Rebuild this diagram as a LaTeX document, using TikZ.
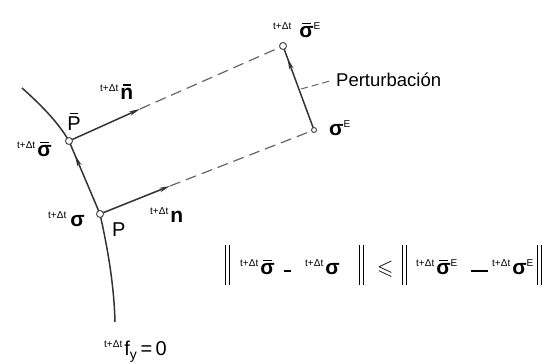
\documentclass[tikz,border=0pt]{standalone}
\usepackage{amssymb}
\usepackage{fontspec}
\setmainfont{Liberation Sans}
\usetikzlibrary{arrows.meta,decorations.markings}
\newcommand\pre[1]{\raisebox{0.8ex}{\fontsize{10}{10}\selectfont #1}\hspace{2pt}}
\newcommand\supE{\raisebox{0.75ex}{\fontsize{10}{10}\selectfont E}}
\newcommand\sig{{\bfseries σ}}
\newcommand\barred[1]{\setbox0\hbox{#1}\vbox{\offinterlineskip\hbox to\wd0{\hss\rule{0.6\wd0}{1.3pt}\hss}\vskip3pt\box0}}
\newcommand\sigb{\barred{\bfseries σ}}
\newcommand\dbars{\rule[-10pt]{1.1pt}{40pt}\hspace{3pt}\rule[-10pt]{1.1pt}{40pt}}
\begin{document}
\begin{tikzpicture}[x=1pt,y=-1pt,
  curve/.style={line width=1.5pt,draw=black!80},
  solid line/.style={line width=1.5pt,draw=black!80},
  dash line/.style={line width=1.2pt,draw=black!60,dash pattern=on 11pt off 6pt},
  tip/.style={-{Stealth[length=11pt,width=4.5pt]}},
  midtip/.style={postaction={decorate},decoration={markings,
     mark=at position #1 with {\arrow{Stealth[length=11pt,width=4.5pt]}}}},
  pt/.style={circle,draw=black!70,line width=1pt,fill=white,minimum size=7pt,inner sep=0pt},
  sym/.style={font=\fontsize{21}{23}\selectfont,inner sep=0pt},
  big/.style={font=\fontsize{20}{22}\selectfont,inner sep=0pt},
  txt/.style={font=\fontsize{18.5}{20}\selectfont,inner sep=0pt}]
\useasboundingbox (0,0) rectangle (542,363);
% key points
\coordinate (P) at (100,214);
\coordinate (Pb) at (69,141);
\coordinate (T) at (283,46);
\coordinate (E) at (314,130);
\coordinate (nA) at (170,186);
\coordinate (nbA) at (140,109);
\coordinate (ctop) at (22,88);
\coordinate (cbot) at (115,322);
\coordinate (L1) at (301,89);
\coordinate (L2) at (330,81);
% yield curve
\draw[curve] (ctop) .. controls (40,104) and (58,122) .. (Pb);
\draw[curve,midtip=0.80] (P) -- (Pb);
\draw[curve] (P) .. controls (108,250) and (114,285) .. (cbot);
% normals
\draw[solid line,tip] (P) -- (nA);
\draw[dash line] (nA) -- (E);
\draw[solid line,tip] (Pb) -- (nbA);
\draw[dash line] (nbA) -- (T);
% perturbation
\draw[solid line,midtip=0.85] (E) -- (T);
\draw[dash line,line width=1pt,dash pattern=on 7pt off 4pt] (L1) -- (L2);
\node[txt,anchor=west] (pert) at (336,80) {Perturbación};
% point markers
\node[pt] (cP) at (P) {};
\node[pt] (cPb) at (Pb) {};
\node[pt] (cT) at (T) {};
\node[pt,minimum size=5pt] (cE) at (E) {};
% labels
\node[sym,anchor=base west] (lT) at (273,38) {\pre{t+Δt}\hspace{6pt}\sigb\supE};
\node[sym,anchor=base west] (lE) at (329,136) {\sig\supE};
\node[big,anchor=base] (lPb) at (74,131) {\barred{P}};
\node[sym,anchor=base west] (lsb) at (17,157) {\pre{t+Δt}\sigb};
\node[big,anchor=base west] (lP) at (112,237) {P};
\node[sym,anchor=base west] (ls) at (48,227) {\pre{t+Δt}\hspace{2pt}\sig};
\node[sym,anchor=base west] (lnb) at (100,100) {\pre{t+Δt}\barred{\bfseries n}};
\node[sym,anchor=base west] (ln) at (150,223) {\pre{t+Δt}{\bfseries n}};
\node[big,anchor=base west] (lf) at (104,356) {\pre{t+Δt}f\textsubscript{y}\,=\,0};
% inequality
\node[sym,anchor=base west] (b1) at (225,275) {\dbars};
\node[sym,anchor=base west] (e1) at (240,275) {\pre{t+Δt}\sigb};
\node[sym,anchor=base west] (m1) at (284,275) {\rule[0.25ex]{7pt}{2.4pt}};
\node[sym,anchor=base west] (e2) at (305,275) {\pre{t+Δt}\sig};
\node[sym,anchor=base west] (b2) at (359,275) {\dbars};
\node[sym,anchor=base west] (le) at (377,275) {\(\leqslant\)};
\node[sym,anchor=base west] (b3) at (402,275) {\dbars};
\node[sym,anchor=base west] (e3) at (416,275) {\pre{t+Δt}\sigb\supE};
\node[sym,anchor=base west] (m2) at (471,275) {\rule[0.25ex]{17pt}{2.6pt}};
\node[sym,anchor=base west] (e4) at (492,275) {\pre{t+Δt}\sig\supE};
\node[sym,anchor=base west] (b4) at (537,275) {\dbars};
\end{tikzpicture}
\end{document}
